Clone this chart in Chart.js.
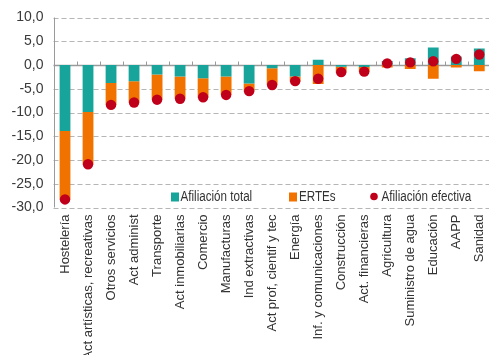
<!DOCTYPE html>
<html>
<head>
<meta charset="utf-8">
<script src="https://cdn.jsdelivr.net/npm/chart.js@4/dist/chart.umd.min.js"></script>
<style>
  html, body { margin: 0; padding: 0; background: #fff; overflow: hidden; }
  #wrap { position: relative; width: 496px; height: 355px; }
</style>
</head>
<body>
<div id="wrap"><canvas id="c"></canvas></div>
<script>
const categories = [
  'Hostelería', 'Act artísticas, recreativas', 'Otros servicios', 'Act administ',
  'Transporte', 'Act inmobiliarias', 'Comercio', 'Manufacturas', 'Ind extractivas',
  'Act prof, cientif y tec', 'Energía', 'Inf. y comunicaciones', 'Construcción',
  'Act. financieras', 'Agricultura', 'Suministro de agua', 'Educación', 'AAPP', 'Sanidad'
];
const afiliacionTotal = [-13.9, -9.9, -3.8, -3.4, -2.0, -2.4, -2.8, -2.4, -3.9, -0.7, -2.4, 1.1, -0.35, -0.4, 0.85, 1.4, 3.7, 1.8, 3.5];
const ertes = [-14.4, -11.0, -4.6, -4.5, -5.3, -4.7, -4.0, -3.9, -1.6, -3.5, -1.0, -4.0, -1.15, -1.0, -0.5, -0.85, -2.9, -0.5, -1.3];
const afiliacionEfectiva = [-28.3, -20.9, -8.4, -7.9, -7.3, -7.1, -6.8, -6.3, -5.5, -4.2, -3.4, -2.9, -1.5, -1.4, 0.35, 0.55, 0.8, 1.3, 2.2];
const seriesNames = ['Afiliación total', 'ERTEs', 'Afiliación efectiva'];
const yMin = -30, yMax = 10, yStep = 5;

const TEAL = '#17A59B', ORANGE = '#F27200', RED = '#C0001A';

function narrowText(ctx, text, x, y, sx) {
  ctx.save();
  ctx.translate(x, y);
  ctx.scale(sx, 1);
  ctx.fillText(text, 0, 0);
  ctx.restore();
}

const decorPlugin = {
  id: 'decor',
  beforeDatasetsDraw(chart) {
    const {ctx, chartArea: a, scales: {x, y}} = chart;
    ctx.save();
    // dashed grid lines at y ticks
    ctx.strokeStyle = '#b5b5b5';
    ctx.lineWidth = 1;
    ctx.setLineDash([5, 3]);
    y.ticks.forEach(t => {
      if (t.value === 0) return;
      const yy = Math.round(y.getPixelForValue(t.value)) + 0.5;
      ctx.beginPath();
      ctx.moveTo(a.left, yy); ctx.lineTo(a.right, yy);
      ctx.stroke();
    });
    ctx.setLineDash([]);
    const y0 = Math.round(y.getPixelForValue(0)) + 0.5;
    ctx.strokeStyle = '#9a9a9a';
    ctx.lineWidth = 1.3;
    ctx.beginPath();
    ctx.moveTo(a.left, y0); ctx.lineTo(a.right, y0);
    ctx.stroke();
    ctx.lineWidth = 1;
    const n = categories.length;
    const step = (a.right - a.left) / n;
    ctx.beginPath();
    for (let i = 1; i < n; i++) {
      const xx = Math.round(a.left + step * i) + 0.5;
      ctx.moveTo(xx, y0); ctx.lineTo(xx, y0 - 4);
    }
    ctx.stroke();
    ctx.beginPath();
    const lx = Math.round(a.left) + 0.5;
    ctx.moveTo(lx, a.top); ctx.lineTo(lx, a.bottom);
    ctx.stroke();
    ctx.restore();
  },
  afterDraw(chart) {
    const {ctx, chartArea: a} = chart;
    ctx.save();
    ctx.font = '14px "Liberation Sans", Arial, sans-serif';
    ctx.textBaseline = 'middle';
    const ly = 197;
    const sx = 0.83;
    let x0 = a.left + 117.5;
    ctx.fillStyle = TEAL; ctx.fillRect(x0, ly - 4.5, 8, 9);
    ctx.fillStyle = '#333'; narrowText(ctx, seriesNames[0], x0 + 9.5, ly, sx);
    x0 = a.left + 235.5;
    ctx.fillStyle = ORANGE; ctx.fillRect(x0, ly - 4.5, 8, 9);
    ctx.fillStyle = '#333'; narrowText(ctx, seriesNames[1], x0 + 10, ly, sx);
    x0 = a.left + 320.5;
    ctx.fillStyle = RED; ctx.beginPath(); ctx.arc(x0, ly - 0.5, 3.8, 0, Math.PI * 2); ctx.fill();
    ctx.fillStyle = '#333'; narrowText(ctx, seriesNames[2], x0 + 7.5, ly, sx);
    ctx.restore();
  }
};

new Chart(document.getElementById('c'), {
  data: {
    labels: categories,
    datasets: [
      { type: 'line', label: seriesNames[2], data: afiliacionEfectiva, showLine: false,
        pointRadius: 5.2, pointHoverRadius: 5.2, pointBackgroundColor: RED, pointBorderColor: RED,
        pointBorderWidth: 0, stack: 'dots', order: 0 },
      { type: 'bar', label: seriesNames[0], data: afiliacionTotal, backgroundColor: TEAL,
        stack: 'bars', order: 1, barPercentage: 0.47, categoryPercentage: 1 },
      { type: 'bar', label: seriesNames[1], data: ertes, backgroundColor: ORANGE,
        stack: 'bars', order: 1, barPercentage: 0.47, categoryPercentage: 1 }
    ]
  },
  options: {
    responsive: true,
    maintainAspectRatio: false,
    animation: false,
    layout: { padding: { top: 17.5, left: 0, right: 0, bottom: 0 } },
    plugins: { legend: { display: false }, tooltip: { enabled: false } },
    scales: {
      x: {
        stacked: true,
        offset: true,
        grid: { display: false, drawTicks: false },
        border: { display: false },
        ticks: {
          autoSkip: false, maxRotation: 90, minRotation: 90, padding: 7,
          color: '#333', font: { family: '"Liberation Sans", Arial, sans-serif', size: 13 }
        },
        afterFit(scale) { scale.height = 147.5; scale.paddingLeft = 0; scale.paddingRight = 0; }
      },
      y: {
        stacked: true,
        min: yMin, max: yMax,
        ticks: {
          stepSize: yStep, padding: 10, color: '#3a3a3a',
          font: { family: '"Liberation Sans", Arial, sans-serif', size: 14 },
          callback: (v) => v.toFixed(1).replace('.', ',')
        },
        grid: { display: false, drawTicks: false },
        border: { display: false },
        afterFit(scale) { scale.width = 53.5; scale.paddingTop = 0; scale.paddingBottom = 0; }
      }
    }
  },
  plugins: [decorPlugin]
});
</script>
</body>
</html>
